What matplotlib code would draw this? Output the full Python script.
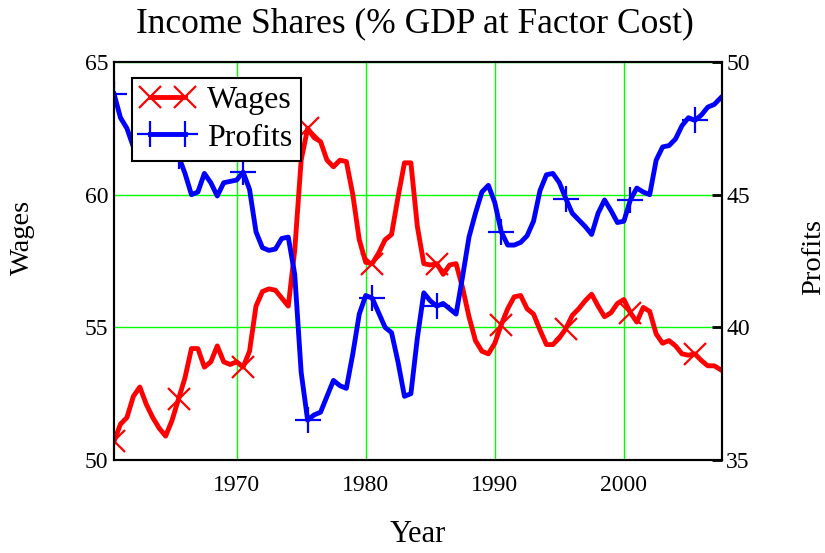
import numpy as np
import matplotlib.pyplot as plt

# half-year sampling
years = np.arange(1960.5, 2007.51, 0.5)

wages = [50.7, 51.35, 51.6, 52.4, 52.75, 52.1, 51.6, 51.2, 50.9, 51.5,
         52.3, 53.1, 54.2, 54.2, 53.5, 53.7, 54.3, 53.7, 53.6, 53.7,
         53.5, 54.1, 55.8, 56.35, 56.45, 56.4, 56.1, 55.8, 57.9, 61.3,
         62.5, 62.15, 62.0, 61.3, 61.05, 61.3, 61.25, 60.0, 58.3, 57.45,
         57.4, 57.8, 58.3, 58.5, 59.9, 61.2, 61.2, 58.8, 57.4, 57.35,
         57.4, 57.0, 57.35, 57.4, 56.5, 55.4, 54.5, 54.1, 54.0, 54.4,
         55.1, 55.7, 56.15, 56.2, 55.7, 55.5, 54.9, 54.35, 54.35, 54.6,
         54.95, 55.45, 55.7, 56.0, 56.25, 55.8, 55.4, 55.55, 55.9, 56.05,
         55.55, 55.2, 55.75, 55.6, 54.75, 54.4, 54.5, 54.3, 54.0, 53.95,
         54.0, 53.75, 53.55, 53.55, 53.4]

profits = [48.8, 47.9, 47.5, 46.8, 46.6, 47.3, 47.8, 48.1, 48.3, 47.5,
           46.45, 45.8, 45.0, 45.1, 45.8, 45.45, 44.95, 45.45, 45.5, 45.55,
           45.85, 45.2, 43.6, 43.0, 42.9, 42.95, 43.35, 43.4, 42.0, 38.3,
           36.5, 36.7, 36.8, 37.4, 38.0, 37.8, 37.7, 39.0, 40.5, 41.2,
           41.1, 40.55, 40.0, 39.8, 38.7, 37.4, 37.5, 39.6, 41.3, 41.0,
           40.8, 40.9, 40.7, 40.5, 41.9, 43.4, 44.3, 45.1, 45.35, 44.7,
           43.6, 43.1, 43.1, 43.2, 43.45, 44.0, 45.15, 45.75, 45.8, 45.45,
           44.85, 44.3, 44.05, 43.8, 43.5, 44.3, 44.8, 44.4, 43.95, 44.0,
           44.8, 45.25, 45.1, 45.0, 46.3, 46.8, 46.85, 47.1, 47.6, 47.9,
           47.8, 48.0, 48.3, 48.4, 48.65]

year_ticks = [1970, 1980, 1990, 2000]
wage_ticks = [50, 55, 60, 65]
profit_ticks = [35, 40, 45, 50]

plt.rcParams['font.family'] = ['Liberation Serif', 'DejaVu Serif']

fig = plt.figure(figsize=(8.25, 5.53), dpi=100)
ax = fig.add_axes([114/825, 1 - 460/553, 608/825, 398/553])
ax2 = ax.twinx()

l1, = ax.plot(years, wages, color='red', lw=3.5, marker='x', markevery=10,
              markersize=16, markeredgewidth=1.6, label='Wages')
l2, = ax2.plot(years, profits, color='blue', lw=3.5, marker='+', markevery=10,
               markersize=19, markeredgewidth=1.6, label='Profits')

ax.set_xlim(1960.5, 2007.6)
ax.set_ylim(50, 65)
ax2.set_ylim(35, 50)
ax.set_xticks(year_ticks)
ax.set_yticks(wage_ticks)
ax2.set_yticks(profit_ticks)

ax.grid(True, color='#00ff00', lw=1)
ax.set_axisbelow(True)

ax.tick_params(axis='both', length=0, labelsize=17, pad=4)
ax.tick_params(axis='x', pad=11)
ax2.tick_params(axis='y', direction='in', length=7, width=2, labelsize=17, pad=3)
for a in (ax, ax2):
    for s in a.spines.values():
        s.set_linewidth(1.5)
        s.set_color('black')

fig.text(415/825, 1 - 24/553, 'Income Shares (% GDP at Factor Cost)', ha='center', va='center', fontsize=25.5)
fig.text(22/825, 1 - 237/553, 'Wages', rotation=90, ha='center', va='center', fontsize=20.5)
fig.text(814/825, 1 - 257/553, 'Profits', rotation=90, ha='center', va='center', fontsize=20.5)
fig.text(418/825, 1 - 535/553, 'Year', ha='center', va='center', fontsize=22)

leg = ax2.legend(handles=[l1, l2], loc='upper left', bbox_to_anchor=(0.03, 0.96),
                 borderaxespad=0, fontsize=23, numpoints=2, handlelength=1.7,
                 fancybox=False, framealpha=1, edgecolor='black',
                 borderpad=0.25, labelspacing=0.25, handletextpad=0.4)
leg.get_frame().set_linewidth(1.5)

fig.savefig('out.png', dpi=100)
